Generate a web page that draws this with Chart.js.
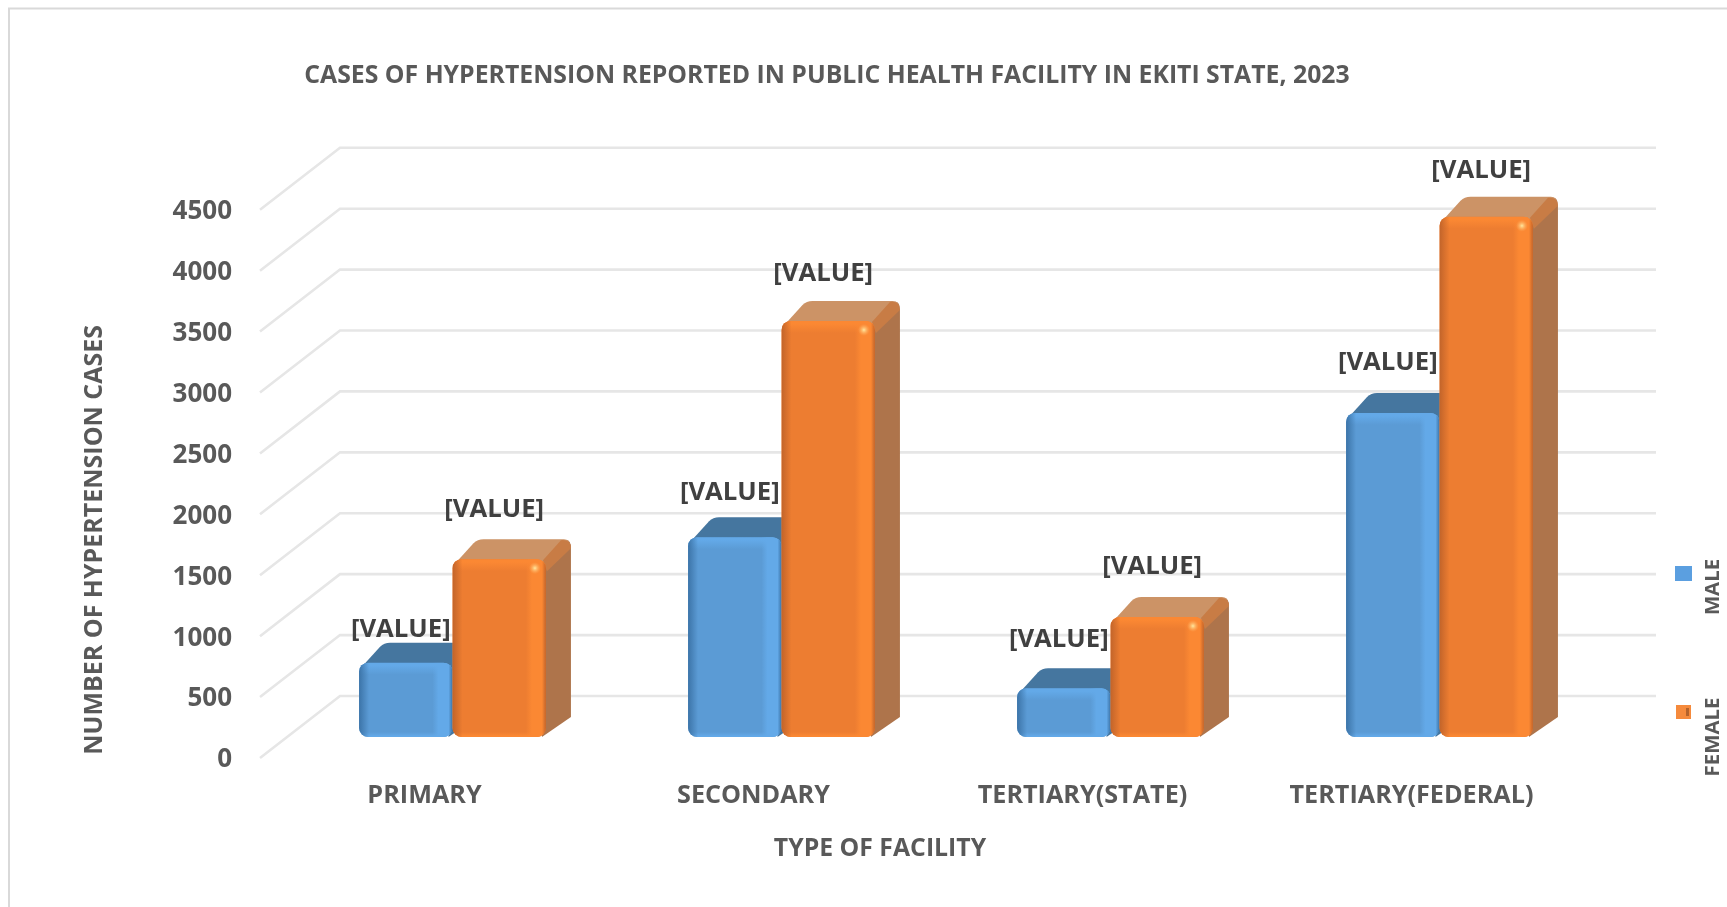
<!DOCTYPE html>
<html>
<head>
<meta charset="utf-8">
<style>
html,body{margin:0;padding:0;background:#fff;overflow:hidden}
canvas{display:block;filter:blur(0.6px)}
</style>
<script src="https://cdn.jsdelivr.net/npm/chart.js@4/dist/chart.umd.min.js"></script>
</head>
<body>
<canvas id="c" width="1727" height="907"></canvas>
<script>
const chartTitle = 'CASES OF HYPERTENSION REPORTED IN PUBLIC HEALTH FACILITY IN EKITI STATE, 2023';
const xTitle = 'TYPE OF FACILITY';
const yTitle = 'NUMBER OF HYPERTENSION CASES';
const categories = ['PRIMARY', 'SECONDARY', 'TERTIARY(STATE)', 'TERTIARY(FEDERAL)'];
const maleValues = [610, 1640, 400, 2660];
const femaleValues = [1460, 3415, 985, 4270];
const dataLabel = '[VALUE]';

const FONT = '"Open Sans", sans-serif';
const WALL = {dx: 80, dy: -62};
const BAR_SHIFT = {dx: 28, dy: -21};
const BAR_DEPTH = {dx: 25, dy: -20};
const skins = [
  {front:'#5b9bd5', edge:'#3c74a8', light:'#63a9e8', top:'#45769f', topEdge:'#45769f', side:'#45769f', legend:'#5b9fe0'},
  {front:'#ed7d31', edge:'#c2642a', light:'#fb8833', top:'#cc9366', topEdge:'#c87c45', side:'#ae744b', legend:'#f58a3c'}
];
// label lift above each bar top, [male, female] per category
const labelLift = [[33, 49], [45, 47], [49, 50], [50, 46]];

function sideFaces(ctx, el, s) {
  const {x, y, base, width} = el.getProps(['x','y','base','width'], true);
  const x0 = x - width/2, x1 = x + width/2, {dx, dy} = BAR_DEPTH, r = 9;
  // right side
  ctx.beginPath();
  ctx.moveTo(x1 - 2, y + 2);
  ctx.lineTo(x1 + dx - 6, y + dy + 1);
  ctx.quadraticCurveTo(x1 + dx, y + dy, x1 + dx, y + dy + r);
  ctx.lineTo(x1 + dx, base + dy);
  ctx.lineTo(x1 - 4, base);
  ctx.closePath();
  ctx.fillStyle = s.side;
  ctx.fill();
  // top
  ctx.beginPath();
  ctx.moveTo(x0 + 1, y + 6);
  ctx.lineTo(x0 + dx - 4, y + dy + 4);
  ctx.quadraticCurveTo(x0 + dx, y + dy, x0 + dx + 6, y + dy);
  ctx.lineTo(x1 + dx - 7, y + dy);
  ctx.quadraticCurveTo(x1 + dx - 1, y + dy, x1 + dx - 1, y + dy + 6);
  ctx.lineTo(x1 - 2, y + 4);
  ctx.closePath();
  ctx.fillStyle = s.top;
  ctx.fill();
  // rounded seam between top and side
  const seam = ctx.createLinearGradient(x1 - 2, y + 2, x1 + dx, y + dy + 16);
  seam.addColorStop(0, s.topEdge);
  seam.addColorStop(1, s.topEdge);
  ctx.beginPath();
  ctx.moveTo(x1 - 3, y + 1);
  ctx.lineTo(x1 + dx - 10, y + dy + 1);
  ctx.quadraticCurveTo(x1 + dx, y + dy, x1 + dx, y + dy + 9);
  ctx.lineTo(x1 + 1, y + 12);
  ctx.closePath();
  ctx.fillStyle = seam;
  ctx.fill();
}

function bevel(ctx, el, s, idx) {
  const {x, y, base, width} = el.getProps(['x','y','base','width'], true);
  const x0 = x - width/2, h = base - y, w = width;
  const fade = (x1, y1, x2, y2, c, rx, ry, rw, rh) => {
    const g = ctx.createLinearGradient(x1, y1, x2, y2);
    g.addColorStop(0, c);
    g.addColorStop(1, c + '00');
    ctx.fillStyle = g;
    ctx.fillRect(rx, ry, rw, rh);
  };
  ctx.save();
  ctx.beginPath();
  ctx.roundRect(x0, y, w, h, 9);
  ctx.clip();
  fade(0, y + 3, 0, y + 12, s.light, x0, y, w, 12);
  fade(0, base - 1, 0, base - 5, s.light, x0, base - 5, w, 5);
  // soft light stripe near the right edge
  let g = ctx.createLinearGradient(x0 + w - 20, 0, x0 + w, 0);
  g.addColorStop(0, s.light + '00');
  g.addColorStop(0.3, s.light);
  g.addColorStop(0.8, s.light);
  g.addColorStop(1, s.edge);
  ctx.fillStyle = g;
  ctx.fillRect(x0 + w - 20, y, 20, h);
  fade(x0, 0, x0 + 10, 0, s.edge, x0, y, 10, h);
  if (idx === 1) {
    const hx = x0 + w - 11, hy = y + 9;
    g = ctx.createRadialGradient(hx, hy, 0, hx, hy, 6);
    g.addColorStop(0, '#ffe9a0'); g.addColorStop(1, '#ffb06000');
    ctx.fillStyle = g;
    ctx.fillRect(hx - 6, hy - 6, 12, 12);
  }
  ctx.restore();
}

const look3d = {
  id: 'look3d',
  afterLayout(chart) {
    const t = chart.titleBlock;
    t.left = 0; t.right = 1654;
  },
  beforeDraw(chart) {
    const ctx = chart.ctx, sx = chart.scales.x, sy = chart.scales.y;
    const shift = (scale, method, dx, dy) => {
      const flag = '_shifted' + method;
      if (scale[flag]) return;
      scale[flag] = true;
      const orig = scale[method];
      scale[method] = function (...a) {
        ctx.save(); ctx.translate(dx, dy); orig.apply(this, a); ctx.restore();
      };
    };
    shift(sx, 'drawTitle', -38, 0);
    shift(sy, 'drawTitle', 2, 56);
    shift(sy, 'drawLabels', 0, 2);
    // outer frame
    ctx.save();
    ctx.strokeStyle = '#d9d9d9';
    ctx.lineWidth = 2;
    ctx.beginPath();
    ctx.moveTo(9, 907); ctx.lineTo(9, 8.5); ctx.lineTo(1727, 8.5);
    ctx.stroke();
    // floor-to-wall gridlines
    ctx.strokeStyle = '#e6e6e6';
    ctx.lineWidth = 2.6;
    const {left, right} = chart.chartArea;
    sy.ticks.forEach(t => {
      const y = sy.getPixelForValue(t.value);
      ctx.beginPath();
      ctx.moveTo(left, y);
      ctx.lineTo(left + WALL.dx, y + WALL.dy);
      ctx.lineTo(right + WALL.dx, y + WALL.dy);
      ctx.stroke();
    });
    ctx.restore();
  },
  beforeDatasetsDraw(chart) {
    const ctx = chart.ctx;
    ctx.save();
    ctx.translate(BAR_SHIFT.dx, BAR_SHIFT.dy);
    [0, 1].forEach(i => {
      const meta = chart.getDatasetMeta(i);
      meta.data.forEach(el => sideFaces(ctx, el, skins[i]));
      meta.controller.draw();
      meta.data.forEach(el => bevel(ctx, el, skins[i], i));
    });
    // data labels
    ctx.fillStyle = '#404040';
    ctx.font = 'bold 25.7px ' + FONT;
    ctx.textAlign = 'center';
    ctx.textBaseline = 'middle';
    [0, 1].forEach(i => {
      chart.getDatasetMeta(i).data.forEach((el, k) => {
        const {x, y} = el.getProps(['x','y'], true);
        ctx.fillText(dataLabel, x - 5, y - labelLift[k][i]);
      });
    });
    ctx.restore();
    // legend
    ctx.save();
    const spots = [{x:1675, y:566, w:17, h:15, tx:1713, ty:587}, {x:1676, y:705, w:15, h:14, tx:1713, ty:737}];
    chart.data.datasets.forEach((d, i) => {
      const p = spots[i];
      ctx.fillStyle = skins[i].legend;
      ctx.fillRect(p.x, p.y, p.w, p.h);
      if (i === 1) { ctx.fillStyle = '#b4622a'; ctx.fillRect(p.x + 10, p.y + 3, 3, 8); }
      ctx.save();
      ctx.translate(p.tx, p.ty);
      ctx.rotate(-Math.PI/2);
      ctx.fillStyle = '#595959';
      ctx.font = 'bold 20.4px ' + FONT;
      ctx.textAlign = 'center';
      ctx.textBaseline = 'middle';
      ctx.fillText(d.label, 0, 0);
      ctx.restore();
    });
    ctx.restore();
    return false;
  }
};

new Chart(document.getElementById('c'), {
  type: 'bar',
  plugins: [look3d],
  data: {
    labels: categories,
    datasets: [
      {label: 'MALE', data: maleValues, backgroundColor: skins[0].front, borderRadius: 9, borderSkipped: false,
       categoryPercentage: 0.568, barPercentage: 1},
      {label: 'FEMALE', data: femaleValues, backgroundColor: skins[1].front, borderRadius: 9, borderSkipped: false,
       categoryPercentage: 0.568, barPercentage: 1}
    ]
  },
  options: {
    responsive: false,
    animation: false,
    layout: {padding: {left: 0, right: 151, top: 0, bottom: 0}},
    plugins: {
      legend: {display: false},
      tooltip: {enabled: false},
      title: {
        display: true,
        text: chartTitle,
        color: '#595959',
        font: {family: FONT, size: 24.8, weight: 'bold'},
        padding: {top: 61, bottom: 119}
      }
    },
    scales: {
      x: {
        grid: {display: false, drawTicks: false},
        border: {display: false},
        ticks: {color: '#595959', padding: 23, maxRotation: 0, autoSkip: false, font: {family: FONT, size: 25.2, weight: 'bold'}},
        title: {display: true, text: xTitle, color: '#595959', padding: {top: 0, bottom: 43}, font: {family: FONT, size: 24.8, weight: 'bold'}},
        afterFit(s) { s.height = 149; }
      },
      y: {
        min: 0, max: 4500,
        grid: {display: false, drawTicks: false},
        border: {display: false},
        ticks: {stepSize: 500, color: '#595959', padding: 28, callback: v => String(v), font: {family: FONT, size: 26, weight: 'bold'}},
        title: {display: true, text: yTitle, color: '#595959', padding: {top: 78, bottom: 0}, font: {family: FONT, size: 25, weight: 'bold'}},
        afterFit(s) { s.width = 260; }
      }
    }
  }
});
</script>
</body>
</html>
